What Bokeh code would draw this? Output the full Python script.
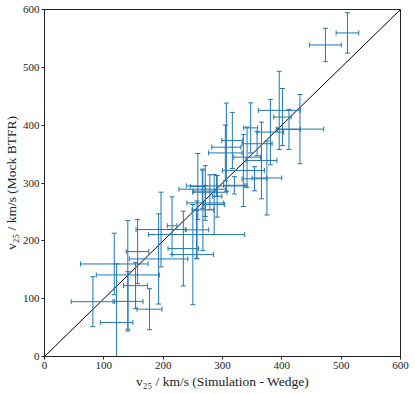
import numpy as np
from bokeh.plotting import figure
from bokeh.models import ColumnDataSource, Whisker, TeeHead, Range1d, FixedTicker
from bokeh.embed import file_html
from bokeh.resources import INLINE

# v25 (simulation - wedge) vs v25 (mock BTFR), km/s
v_sim = [473.5, 510.6, 430.5, 395.6, 401.0, 347.5, 316.6, 380.7, 412.0, 306.5,
         304.8, 374.8, 335.2, 341.4, 365.6, 358.3, 354.0, 266.0, 278.7, 271.0,
         286.0, 266.9, 258.4, 271.0, 290.0, 291.0, 257.0, 320.0, 215.0, 196.4,
         256.4, 234.0, 250.0, 156.9, 192.3, 117.6, 140.4, 153.5, 81.6, 140.7,
         177.0, 121.5]
v_mock = [538.7, 559.5, 393.2, 425.6, 414.0, 395.3, 373.6, 388.0, 392.7, 361.9,
          352.0, 308.7, 321.7, 344.7, 339.0, 367.9, 307.3, 289.3, 284.0, 265.5,
          262.7, 253.6, 294.0, 286.0, 295.0, 277.0, 219.0, 296.0, 226.0, 219.5,
          210.8, 186.6, 176.2, 181.4, 168.7, 160.0, 141.0, 122.5, 94.8, 95.3,
          81.8, 58.9]
err_sim = [26.7, 19.1, 40.1, 35.4, 14.7, 11.8, 17.7, 22.4, 19.4, 24.5,
           28.3, 25.0, 35.4, 22.4, 26.1, 25.3, 21.1, 39.3, 29.0, 31.0,
           17.7, 18.2, 12.7, 20.0, 51.0, 8.0, 19.7, 18.0, 8.0, 42.2,
           81.0, 25.8, 35.0, 19.0, 49.3, 57.0, 53.1, 20.2, 36.6, 25.3,
           21.1, 27.5]
err_mock_low = [28.9, 35.0, 59.8, 67.6, 49.4, 43.3, 48.5, 56.6, 34.6, 76.2,
                48.2, 64.0, 62.4, 52.0, 66.3, 20.8, 20.8, 33.0, 30.0, 30.0,
                52.0, 70.5, 57.0, 44.0, 18.0, 36.0, 50.0, 15.0, 50.0, 64.6,
                41.6, 64.6, 86.6, 55.4, 78.0, 53.2, 94.0, 39.8, 43.3, 51.4,
                35.5, 58.9]
err_mock_high = [28.9, 35.0, 59.8, 67.6, 49.4, 43.3, 48.5, 56.6, 34.6, 76.2,
                 48.2, 64.0, 62.4, 52.0, 66.3, 20.8, 20.8, 33.0, 30.0, 30.0,
                 52.0, 70.5, 57.0, 44.0, 18.0, 36.0, 50.0, 15.0, 50.0, 64.6,
                 41.6, 64.6, 86.6, 55.4, 78.0, 53.2, 94.0, 39.8, 43.3, 51.4,
                 35.5, 101.2]
one_to_one = [0, 600]
tick_values = [0, 100, 200, 300, 400, 500, 600]

x = np.array(v_sim)
y = np.array(v_mock)
src = ColumnDataSource(dict(
    x=x, y=y,
    x_lo=x - np.array(err_sim), x_hi=x + np.array(err_sim),
    y_lo=y - np.array(err_mock_low), y_hi=y + np.array(err_mock_high),
))

BLUE = "#1f77b4"
FONT = "Liberation Serif"
INK = "#222222"

p = figure(width=412, height=392, output_backend="svg", toolbar_location=None,
           x_range=Range1d(0, 600), y_range=Range1d(0, 600),
           min_border_left=44, min_border_right=12, min_border_top=9, min_border_bottom=36)
p.grid.visible = False
p.outline_line_color = INK
p.outline_line_width = 1
p.background_fill_color = "white"
p.border_fill_color = "white"

def head():
    return TeeHead(size=5, line_color=BLUE, line_width=1)

wx = Whisker(source=src, base="y", lower="x_lo", upper="x_hi", dimension="width",
             line_color=BLUE, line_width=1, upper_head=head(), lower_head=head())
wy = Whisker(source=src, base="x", lower="y_lo", upper="y_hi", dimension="height",
             line_color=BLUE, line_width=1, upper_head=head(), lower_head=head())
wx.level = "glyph"
wy.level = "glyph"
p.add_layout(wx)
p.add_layout(wy)

p.line(one_to_one, one_to_one, line_color="black", line_width=1)

for ax in (p.xaxis[0], p.yaxis[0]):
    ax.ticker = FixedTicker(ticks=tick_values)
    ax.minor_tick_line_color = None
    ax.major_tick_in = 0
    ax.major_tick_out = 3
    ax.major_tick_line_color = INK
    ax.axis_line_color = INK
    ax.major_label_text_font = FONT
    ax.major_label_text_font_size = "11px"
    ax.major_label_text_color = INK
    ax.axis_label_text_font = FONT
    ax.axis_label_text_font_size = "13.5px"
    ax.axis_label_text_font_style = "normal"
    ax.axis_label_text_color = INK

p.xaxis.axis_label = "v₂₅ / km/s (Simulation - Wedge)"
p.yaxis.axis_label = "v₂₅ / km/s (Mock BTFR)"
p.xaxis.major_label_standoff = 2
p.yaxis.major_label_standoff = 2
p.xaxis.axis_label_standoff = 2
p.yaxis.axis_label_standoff = 1

open("out.html", "w").write(file_html(p, INLINE))
